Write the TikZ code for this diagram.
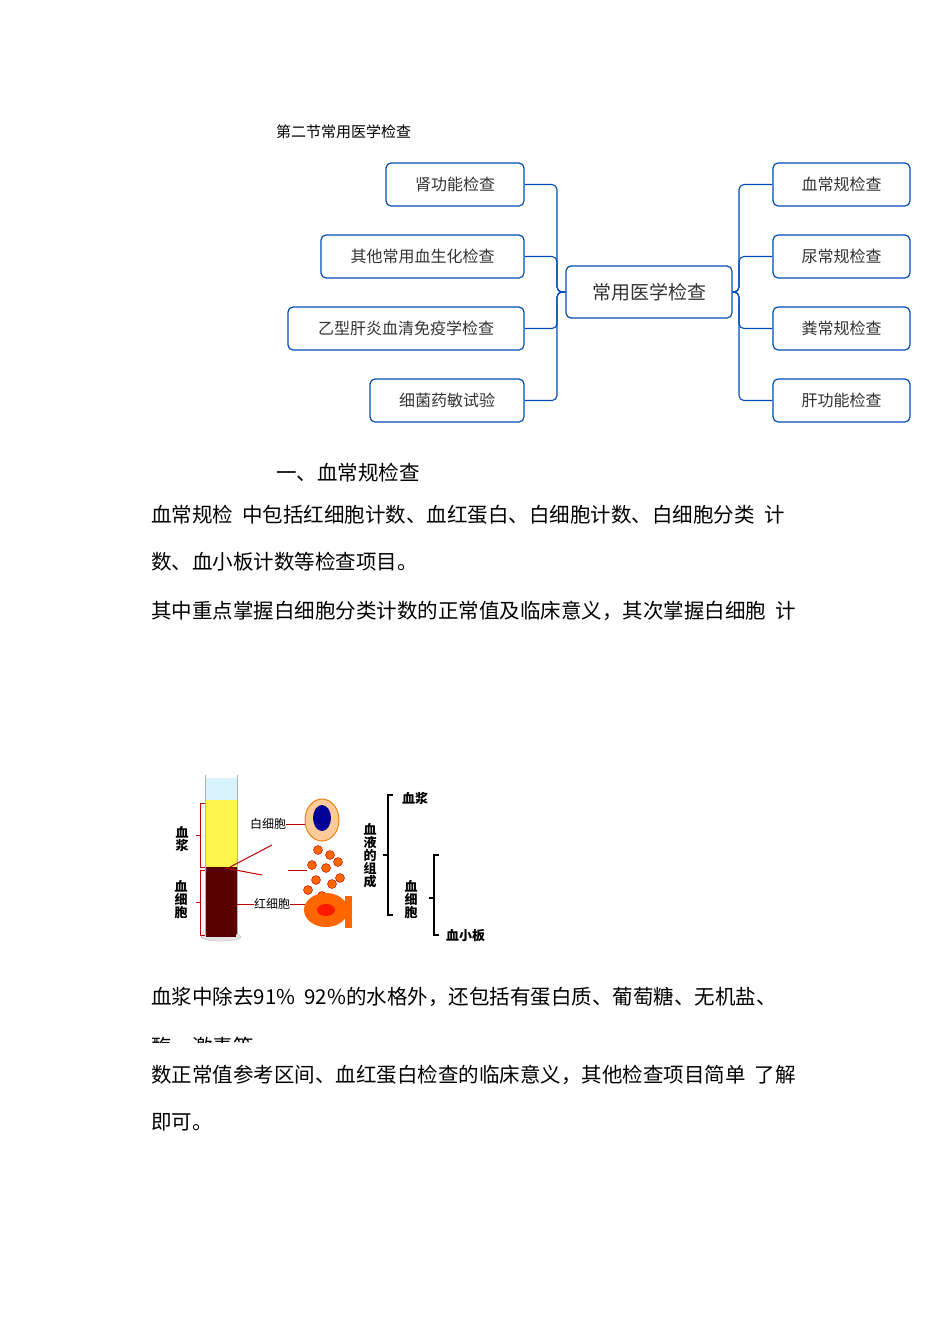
\documentclass[tikz,border=0pt]{standalone}
\usepackage{fontspec}
\setmainfont{Noto Sans CJK SC}
\begin{document}
\begin{tikzpicture}[x=1pt,y=-1pt,
  box/.style={draw=blue!60!black!70!cyan,line width=1.2pt,rounded corners=5pt,inner sep=0pt,font=\fontsize{16}{16}\selectfont,text=black!80},
  conn/.style={draw=blue!60!black!70!cyan,line width=1.1pt,rounded corners=5pt},
  para/.style={anchor=west,font=\fontsize{20.5}{20}\selectfont,inner sep=0pt},
  lab/.style={font=\fontsize{13}{13}\selectfont\bfseries,inner sep=0pt,align=center},
  rb/.style={draw=red!75!black,line width=1pt}]
\useasboundingbox (0,0) rectangle (950,1318);
\fill[white] (0,0) rectangle (950,1318);
\node[anchor=west,font=\fontsize{15}{15}\selectfont,inner sep=0pt] (title) at (276,132) {第二节常用医学检查};
% mind map
\node[box,minimum width=166pt,minimum height=52pt] (c) at (649,292) {\fontsize{19}{19}\selectfont 常用医学检查};
\node[box,minimum width=138pt,minimum height=43pt] (l1) at (455,184.5) {肾功能检查};
\node[box,minimum width=203pt,minimum height=43pt] (l2) at (422.5,256.5) {其他常用血生化检查};
\node[box,minimum width=236pt,minimum height=43pt] (l3) at (406,328.5) {乙型肝炎血清免疫学检查};
\node[box,minimum width=154pt,minimum height=43pt] (l4) at (447,400.5) {细菌药敏试验};
\node[box,minimum width=137pt,minimum height=43pt] (r1) at (841.5,184.5) {血常规检查};
\node[box,minimum width=137pt,minimum height=43pt] (r2) at (841.5,256.5) {尿常规检查};
\node[box,minimum width=137pt,minimum height=43pt] (r3) at (841.5,328.5) {粪常规检查};
\node[box,minimum width=137pt,minimum height=43pt] (r4) at (841.5,400.5) {肝功能检查};
\coordinate (lj) at (557,292);
\coordinate (rj) at (739,292);
\foreach \n in {l1,l2,l3,l4} \draw[conn] (\n.east) -| (lj) -- (c.west);
\foreach \n in {r1,r2,r3,r4} \draw[conn] (\n.west) -| (rj) -- (c.east);
% text
\node[anchor=west,font=\fontsize{20.5}{20}\selectfont,inner sep=0pt] (h1) at (276,473) {一、血常规检查};
\node[para] (p1) at (151,515) {血常规检\ \ 中包括红细胞计数、血红蛋白、白细胞计数、白细胞分类\ \ 计};
\node[para] (p2) at (151,562) {数、血小板计数等检查项目。};
\node[para] (p3) at (151,611) {其中重点掌握白细胞分类计数的正常值及临床意义，其次掌握白细胞\ \ 计};
\node[para] (p4) at (151,997) {血浆中除去91\%\ \ 92\%的水格外，还包括有蛋白质、葡萄糖、无机盐、};
\begin{scope}
\clip (140,1030) rectangle (400,1042);
\node[para] (p5) at (151,1047) {酶、激素等};
\end{scope}
\node[para] (p6) at (151,1075) {数正常值参考区间、血红蛋白检查的临床意义，其他检查项目简单\ \ 了解};
\node[para] (p7) at (151,1122) {即可。};
% blood figure
\fill[cyan!15] (205,778) rectangle (237,800);
\fill[yellow!70!white] (205,800) rectangle (237,867);
\fill[red!35!black] (205,867) rectangle (237,935);
\draw[gray!60,line width=1pt] (205,775) -- (205,935) (237,775) -- (237,935);
\draw[gray!50,fill=gray!20] (221,937) ellipse (20pt and 4pt);
\fill[red!35!black] (206,930) rectangle (236,937);
\draw[rb] (205,803) -- (200,803) -- (200,867) -- (205,867) (200,835) -- (196,835);
\draw[rb] (205,870) -- (200,870) -- (200,935) -- (205,935) (200,902) -- (196,902);
\node[lab] (bj) at (182,839) {血\\浆};
\node[lab] (bxb) at (181,900) {血\\细\\胞};
\draw[rb] (225,868) -- (262,875) (230,867) -- (272,845);
\node[lab,font=\fontsize{12}{12}\selectfont] (wbc) at (268,824) {白细胞};
\node[lab,font=\fontsize{12}{12}\selectfont] (rbc) at (272,904) {红细胞};
\draw[rb] (237,904) -- (rbc.west) (rbc.east) -- (305,904) (wbc.east) -- (305,824) (288,870) -- (307,870);
\fill[orange!40,draw=orange!70!brown,line width=1pt] (322,820) ellipse (17pt and 21pt);
\fill[blue!60!black] (322,818) ellipse (9pt and 13pt);
\foreach \p in {(318,850),(330,855),(312,865),(326,868),(338,862),(316,880),(332,884),(308,890),(340,878),(322,896)}
  \fill[orange!80!red,draw=red!70!black,line width=0.4pt] \p circle (4.5pt);
\fill[orange!80!red] (326,910) ellipse (22pt and 17pt);
\fill[red!80!orange] (326,910) ellipse (9pt and 6pt);
\fill[orange!80!red] (345,896) rectangle (352,928);
% right bracket diagram
\draw[line width=1.2pt] (393,795) -- (388,795) -- (388,915) -- (393,915) (388,855) -- (383,855);
\node[lab] (xy) at (370,856) {血\\液\\的\\组\\成};
\node[lab,anchor=west] (xj) at (402,798) {血浆};
\draw[line width=1.2pt] (439,855) -- (434,855) -- (434,935) -- (439,935) (434,898) -- (429,898);
\node[lab] (xxb) at (411,900) {血\\细\\胞};
\node[lab,anchor=west] (xxb2) at (446,936) {血小板};
\end{tikzpicture}
\end{document}
